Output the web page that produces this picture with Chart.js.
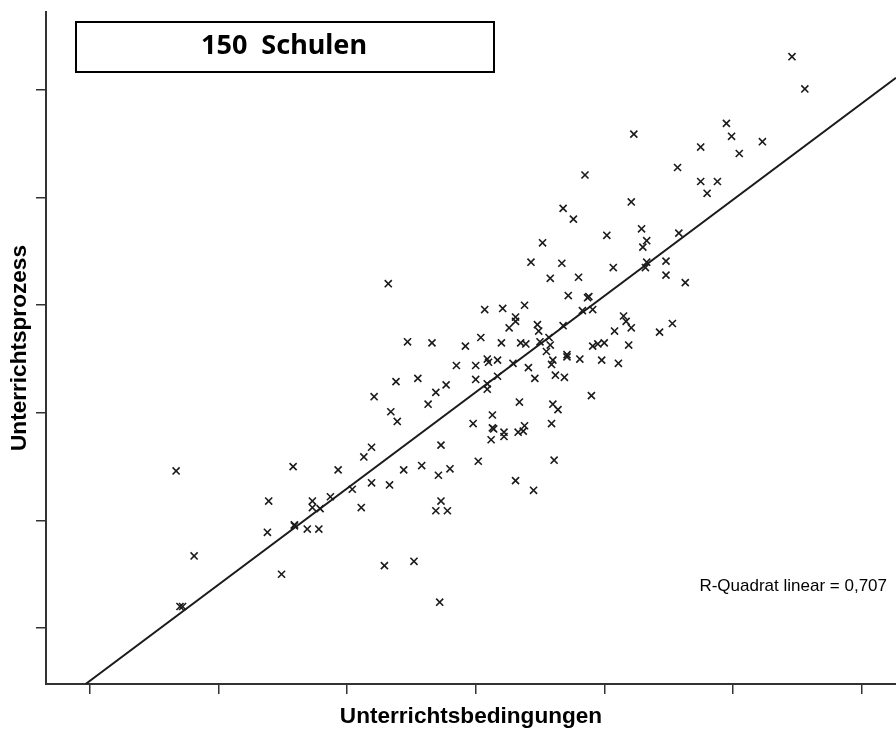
<!DOCTYPE html>
<html lang="de">
<head>
<meta charset="utf-8">
<title>Unterrichtsbedingungen und Unterrichtsprozess</title>
<script src="https://cdn.jsdelivr.net/npm/chart.js@4.4.1/dist/chart.umd.min.js"></script>
<style>
  html, body { margin: 0; padding: 0; background: #fff; }
  #wrap { width: 896px; height: 729px; }
</style>
</head>
<body>
<div id="wrap"><canvas id="streuChart" width="896" height="729"></canvas></div>
<script>
// Werte je Schule (150 Schulen)
const bedingungen = [
    5.46, 5.56, 4.95, 4.99, 4.75, 5.23, 5.05, 4.23, 3.85, 4.57,
    4.75, 4.88, 4.80, 4.21, 3.68, 3.76, 4.02, 4.29, 4.58, 4.33,
    3.52, 4.30, 3.43, 3.67, 4.07, 4.48, 4.33, 4.32, 4.48, 4.63,
    3.58, 3.80, 3.72, 3.87, 3.83, 3.91, 3.07, 3.21, 3.38, 3.31,
    3.31, 3.26, 3.48, 3.49, 3.68, 4.15, 4.17, 4.21, 4.08, 4.43,
    4.53, 3.04, 3.20, 3.35, 3.39, 3.50, 3.57, 3.58, 3.55, 3.91,
    3.95, 4.00, 4.19, 3.09, 3.10, 3.17, 3.29, 3.60, 3.59, 3.71,
    3.71, 3.81, 3.98, 4.11, 3.41, 3.17, 3.46, 3.62, 3.69, 3.09,
    3.09, 3.90, 3.34, 3.60, 3.64, 3.13, 3.13, 3.38, 3.59, 2.32,
    2.47, 2.66, 2.92, 2.85, 3.00, 2.38, 2.55, 2.69, 2.77, 3.00,
    2.21, 2.63, 2.34, 2.39, 2.98, 0.67, 1.58, 1.93, 2.13, 2.19,
    2.73, 2.44, 2.58, 2.71, 2.80, 3.02, 2.19, 2.33, 2.04, 1.87,
    1.39, 1.73, 1.73, 1.79, 2.11, 2.73, 2.69, 2.78, 1.38, 1.59,
    1.69, 1.78, 0.81, 2.29, 2.52, 1.49, 2.72, 0.70, 0.72, 3.12,
    3.22, 3.22, 3.33, 3.37, 3.61, 3.31, 3.45, 1.59, 3.88, 3.14
];
const prozess = [
    5.31, 5.01, 4.69, 4.57, 4.47, 4.52, 4.41, 4.59, 4.21, 4.28,
    4.15, 4.15, 4.04, 3.96, 3.90, 3.80, 3.65, 3.71, 3.67, 3.60,
    3.58, 3.54, 3.40, 3.39, 3.35, 3.41, 3.40, 3.35, 3.28, 3.21,
    3.25, 3.26, 3.09, 3.07, 2.95, 2.96, 2.96, 2.97, 3.00, 2.89,
    2.85, 2.79, 2.82, 2.76, 2.81, 2.90, 2.85, 2.79, 2.76, 2.75,
    2.83, 2.70, 2.65, 2.65, 2.64, 2.66, 2.70, 2.63, 2.57, 2.62,
    2.64, 2.65, 2.63, 2.50, 2.47, 2.49, 2.46, 2.49, 2.45, 2.54,
    2.52, 2.50, 2.49, 2.46, 2.42, 2.34, 2.32, 2.35, 2.33, 2.27,
    2.22, 2.16, 2.10, 2.08, 2.03, 1.98, 1.86, 1.88, 1.90, 3.20,
    2.66, 2.65, 2.62, 2.44, 2.44, 2.29, 2.32, 2.19, 2.26, 2.31,
    2.15, 2.08, 2.01, 1.92, 1.90, 1.46, 1.50, 1.47, 1.59, 1.68,
    1.70, 1.47, 1.51, 1.42, 1.48, 1.55, 1.35, 1.33, 1.29, 1.22,
    1.18, 1.18, 1.12, 1.11, 1.12, 1.18, 1.09, 1.09, 0.89, 0.96,
    0.92, 0.92, 0.67, 0.58, 0.62, 0.50, 0.24, 0.20, 0.20, 1.75,
    1.82, 1.78, 1.82, 1.83, 1.56, 1.37, 1.28, 0.95, 3.08, 1.85
];

// lineare Regression: prozess = regAchse + regSteigung * bedingungen
const regAchse = -0.49;
const regSteigung = 0.894;
const rQuadrat = '0,707';

// Achsenbereiche (Teilstriche im Abstand 1)
const xBereich = [-0.342, 6.269];
const yBereich = [-0.52, 5.725];

const punkte = bedingungen.map((x, i) => ({ x: x, y: prozess[i] }));

// Gerade beginnt an der x-Achse und läuft bis zum rechten Rand
const xStart = (yBereich[0] - regAchse) / regSteigung;
const regressionsLinie = [
    { x: xStart, y: yBereich[0] },
    { x: xBereich[1], y: regAchse + regSteigung * xBereich[1] }
];

// Kasten mit Überschrift und R-Quadrat-Text
const beschriftung = {
    id: 'beschriftung',
    afterDraw(chart) {
        const { ctx, chartArea } = chart;
        ctx.save();
        ctx.lineWidth = 2;
        ctx.strokeStyle = '#000';
        ctx.strokeRect(chartArea.left + 30, chartArea.top + 10, 418, 50);
        ctx.fillStyle = '#000';
        ctx.font = 'bold 27px "Noto Sans"';
        ctx.textAlign = 'center';
        ctx.textBaseline = 'alphabetic';
        ctx.fillText('150  Schulen', chartArea.left + 238, chartArea.top + 42);

        ctx.font = '17px "Liberation Sans"';
        ctx.textAlign = 'right';
        ctx.fillText('R-Quadrat linear = ' + rQuadrat, chartArea.right - 9, chartArea.bottom - 93);
        ctx.restore();
    }
};

const titelSchrift = { family: 'Liberation Sans', size: 22.6, weight: 'bold', lineHeight: 1.1 };

new Chart(document.getElementById('streuChart'), {
    type: 'scatter',
    data: {
        datasets: [{
            label: 'Schulen',
            data: punkte,
            pointStyle: 'crossRot',
            pointRadius: 5,
            borderColor: '#1b1b1b',
            backgroundColor: 'transparent',
            borderWidth: 1.6
        }, {
            type: 'line',
            label: 'Regressionsgerade',
            data: regressionsLinie,
            borderColor: '#1b1b1b',
            borderWidth: 2,
            pointRadius: 0,
            fill: false,
            tension: 0
        }]
    },
    options: {
        responsive: false,
        animation: false,
        events: [],
        layout: { autoPadding: false, padding: { top: 12, left: 0, right: 0, bottom: 0 } },
        plugins: {
            legend: { display: false },
            tooltip: { enabled: false }
        },
        scales: {
            x: {
                type: 'linear',
                position: 'bottom',
                min: xBereich[0],
                max: xBereich[1],
                afterFit(scale) { scale.height = 45; },
                ticks: { display: false, stepSize: 1, includeBounds: false },
                grid: { drawOnChartArea: false, drawTicks: true, tickLength: 10, color: '#333', lineWidth: 1.5 },
                border: { display: true, color: '#333', width: 2 },
                title: {
                    display: true,
                    text: 'Unterrichtsbedingungen',
                    color: '#000',
                    font: titelSchrift,
                    padding: { top: 0, bottom: 0 }
                }
            },
            y: {
                type: 'linear',
                position: 'left',
                min: yBereich[0],
                max: yBereich[1],
                afterFit(scale) { scale.width = 46; },
                ticks: { display: false, stepSize: 1, includeBounds: false },
                grid: { drawOnChartArea: false, drawTicks: true, tickLength: 10, color: '#333', lineWidth: 1.5 },
                border: { display: true, color: '#333', width: 2 },
                title: {
                    display: true,
                    text: 'Unterrichtsprozess',
                    color: '#000',
                    font: titelSchrift,
                    padding: { top: 7, bottom: 0 }
                }
            }
        }
    },
    plugins: [beschriftung]
});
</script>
</body>
</html>
